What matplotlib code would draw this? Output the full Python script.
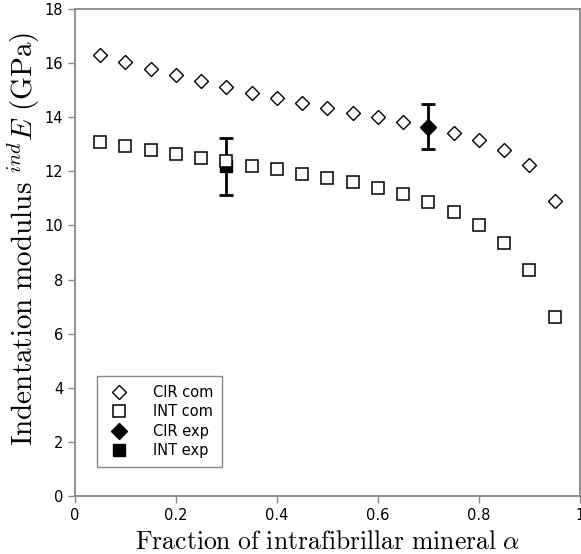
import matplotlib
matplotlib.use("Agg")
import matplotlib.pyplot as plt

plt.rcParams['mathtext.fontset'] = 'cm'
plt.rcParams['font.family'] = 'DejaVu Sans'

# simulated (com) and experimental (exp) moduli, GPa
alpha = [0.05, 0.10, 0.15, 0.20, 0.25, 0.30, 0.35, 0.40, 0.45, 0.50,
         0.55, 0.60, 0.65, 0.70, 0.75, 0.80, 0.85, 0.90, 0.95]
cir_com = [16.30, 16.04, 15.78, 15.56, 15.34, 15.11, 14.89, 14.71, 14.52, 14.36,
           14.15, 14.00, 13.82, 13.62, 13.41, 13.16, 12.80, 12.22, 10.89]
int_com = [13.08, 12.93, 12.78, 12.64, 12.50, 12.38, 12.20, 12.07, 11.91, 11.76,
           11.59, 11.40, 11.15, 10.86, 10.50, 10.01, 9.36, 8.35, 6.60]

cir_exp_x = [0.7]
cir_exp_y = [13.65]
cir_exp_err = [0.84]
int_exp_x = [0.3]
int_exp_y = [12.18]
int_exp_err = [1.05]

fig = plt.figure(figsize=(5.81, 5.54), dpi=100)
ax = fig.add_axes([0.129, 0.1047, 0.869, 0.879])

ax.plot(alpha, cir_com, linestyle='none', marker='D', markersize=7,
        markerfacecolor='white', markeredgecolor='black', markeredgewidth=1,
        label='CIR com', zorder=2)
ax.plot(alpha, int_com, linestyle='none', marker='s', markersize=8.5,
        markerfacecolor='white', markeredgecolor='black', markeredgewidth=1.1,
        label='INT com', zorder=4)
ax.errorbar(cir_exp_x, cir_exp_y, yerr=cir_exp_err, fmt='D', markersize=8,
            color='black', ecolor='black', elinewidth=2, capsize=5, capthick=2,
            label='CIR exp', zorder=3)
ax.errorbar(int_exp_x, int_exp_y, yerr=int_exp_err, fmt='s', markersize=9,
            color='black', ecolor='black', elinewidth=2, capsize=5, capthick=2,
            label='INT exp', zorder=3)

ax.set_xlim(0, 1)
ax.set_ylim(0, 18)
ax.set_xticks([0, 0.2, 0.4, 0.6, 0.8, 1])
ax.set_xticklabels(['0', '0.2', '0.4', '0.6', '0.8', '1'])
ax.set_yticks(range(0, 19, 2))
ax.tick_params(labelsize=10.5, color='#888888', length=5, width=1)
for s in ax.spines.values():
    s.set_color('#888888')
    s.set_linewidth(1.3)

ax.set_xlabel(r'$\mathrm{Fraction\ of\ intrafibrillar\ mineral}\ \alpha$', fontsize=18.5)
ax.set_ylabel(r'$\mathrm{Indentation\ modulus}\ ^{ind}E\ \mathrm{(GPa)}$', fontsize=21)
ax.xaxis.set_label_coords(0.5, -0.068)
ax.yaxis.set_label_coords(-0.065, 0.528)

handles, labels = ax.get_legend_handles_labels()
handles = [h[0] if isinstance(h, tuple) else h for h in handles]
leg = ax.legend(handles, labels, loc='lower left', bbox_to_anchor=(0.044, 0.06),
                borderaxespad=0, fontsize=10.5, fancybox=False, framealpha=1,
                edgecolor='#888888', handletextpad=1.4, handlelength=1.8,
                borderpad=0.6, labelspacing=0.3)
leg.get_frame().set_linewidth(1)

fig.savefig('out.png', dpi=100)
